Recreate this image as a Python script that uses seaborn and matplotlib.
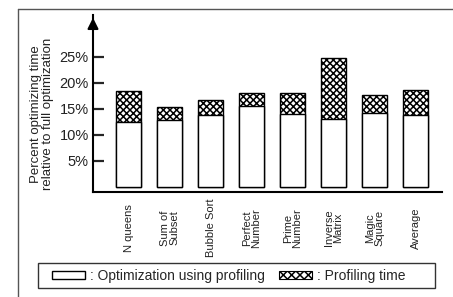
import matplotlib
matplotlib.use("Agg")
import matplotlib.pyplot as plt
from matplotlib.patches import Patch, Rectangle
from matplotlib.lines import Line2D
import seaborn as sns

categories = ["N queens", "Sum of\nSubset", "Bubble Sort", "Perfect\nNumber",
              "Prime\nNumber", "Inverse\nMatrix", "Magic\nSquare", "Average"]
optimization = [12.4, 12.8, 13.7, 15.6, 14.0, 13.0, 14.2, 13.8]
total = [18.4, 15.3, 16.7, 18.0, 18.0, 24.8, 17.7, 18.5]
yticks = [5, 10, 15, 20, 25]
ytick_labels = ["5%", "10%", "15%", "20%", "25%"]

sns.set_style("white")
plt.rcParams["font.family"] = ["Liberation Sans", "DejaVu Sans"]
plt.rcParams["hatch.linewidth"] = 1.1

W, H = 453, 297
fig = plt.figure(figsize=(W / 100, H / 100), dpi=100)
ax = fig.add_axes([93 / W, 1 - 192 / H, (441.7 - 93) / W, (192 - 15) / H])

# profiling time on top (hatched), drawn as the full height first
sns.barplot(x=categories, y=total, color="white", saturation=1, edgecolor="black",
            linewidth=1.0, hatch="xxxxx", width=0.61, ax=ax)
sns.barplot(x=categories, y=optimization, color="white", saturation=1, edgecolor="black",
            linewidth=1.0, width=0.61, ax=ax)

ax.set_xlim(-0.87, 7.63)
ax.set_ylim(-1.02, 33.0)
ax.set_yticks(yticks)
ax.set_yticklabels(ytick_labels, fontsize=10.5, color="#222")
ax.tick_params(axis="y", direction="in", length=8, width=1.6, pad=3, left=True)
ax.set_xticks(range(len(categories)))
ax.set_xticklabels(categories, rotation=90, va="center", ha="center",
                   fontsize=8, linespacing=0.95, color="#222")
ax.tick_params(axis="x", length=0, pad=26)
ax.set_xlabel("")

for s in ["top", "right"]:
    ax.spines[s].set_visible(False)
for s in ["left", "bottom"]:
    ax.spines[s].set_linewidth(1.5)
    ax.spines[s].set_color("black")

# arrow head on the y axis
ax.annotate("", xy=(0, 1.0), xytext=(0, 0.9), xycoords="axes fraction",
            arrowprops=dict(arrowstyle="-|>", color="black", lw=1.5, mutation_scale=16))

fig.text(42 / W, 1 - 114 / H, "Percent optimizing time\nrelative to full optimization",
         rotation=90, ha="center", va="center", fontsize=9.5, linespacing=1.1, color="#222")

# outer frame (only left and top visible)
fig.add_artist(Line2D([18 / W, 18 / W], [0, 1 - 9 / H], transform=fig.transFigure,
                      color="#555", lw=1))
fig.add_artist(Line2D([18 / W, 1], [1 - 9 / H, 1 - 9 / H], transform=fig.transFigure,
                      color="#555", lw=1))

# legend box
fig.add_artist(Rectangle((38 / W, 1 - 288 / H), (435 - 38) / W, 25 / H,
                         transform=fig.transFigure, fill=False, edgecolor="#333", lw=1))
h1 = Patch(facecolor="white", edgecolor="black", lw=1.0)
h2 = Patch(facecolor="white", edgecolor="black", lw=0.8, hatch="xxxx")
fig.legend([h1, h2], [": Optimization using profiling", ": Profiling time"],
           loc="center left", bbox_to_anchor=(52 / W, 1 - 276 / H), ncol=2,
           frameon=False, fontsize=10, handlelength=2.4, handleheight=0.5,
           handletextpad=0.35, columnspacing=1.0, borderpad=0, borderaxespad=0)

fig.savefig("out.png", dpi=100)
